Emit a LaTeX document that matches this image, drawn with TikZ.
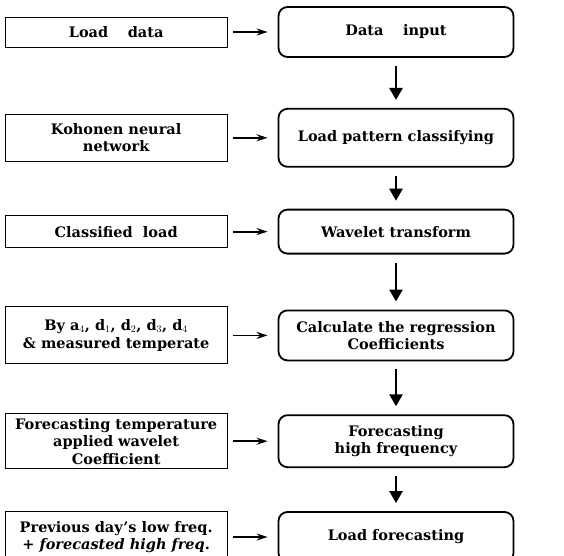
\documentclass[tikz,border=0pt]{standalone}
\usepackage{fontspec}
\setmainfont{DejaVu Serif}
\usepackage{tikz}
\usetikzlibrary{arrows.meta}
\usetikzlibrary{positioning}
\tikzstyle{inbox} = [rectangle,draw=black,line width=0.9pt,align=center,
minimum width=222pt, inner sep=1pt, font=\fontsize{14.5}{17.5}\bfseries]
\tikzstyle{stepbox} = [rectangle,rounded corners=9pt,draw=black,line width=1.8pt,
align=center,minimum width=235pt, inner sep=1pt, font=\fontsize{14.5}{17.5}\bfseries]
\newcommand{\feed}[3][]{ %
  % connect each node #2 to each node #3
  \foreach \a in {#2} { %
    \foreach \b in {#3} { %
      \path (\a) edge [#1] (\b) ;%
    } ;
  } ;
}
\begin{document}
\begin{tikzpicture}[x=1pt,y=1pt,
  side/.style={-{Stealth[length=11pt,width=7pt]}, line width=1.8pt,
    shorten <=5pt, shorten >=10pt},
  down/.style={-{Triangle[length=12pt,width=13pt]}, line width=2.6pt,
    shorten <=8pt, shorten >=8pt}]
  \useasboundingbox (0,0) rectangle (564,555);
  % main steps
  \node[stepbox, minimum height=50pt] (R1) at (396,523) {Data\quad\ input};
  \node[stepbox, minimum height=58pt, below = 50pt of R1] (R2) {Load pattern classifying};
  \node[stepbox, minimum height=44pt, below = 41pt of R2] (R3) {Wavelet transform};
  \node[stepbox, minimum height=50pt, below = 55pt of R3] (R4) {Calculate the regression\\Coefficients};
  \node[stepbox, minimum height=52pt, below = 53pt of R4] (R5) {Forecasting\\high frequency};
  \node[stepbox, minimum height=50pt, below = 43pt of R5] (R6) {Load forecasting};
  % side inputs
  \node[inbox, minimum height=30pt, left = 50pt of R1] (L1) {Load\quad\ data};
  \node[inbox, minimum height=47pt, left = 50pt of R2] (L2) {Kohonen neural\\network};
  \node[inbox, minimum height=32pt, left = 50pt of R3] (L3) {Classified\ \ load};
  \node[inbox, minimum height=57pt, left = 50pt of R4] (L4)
    {By $\mathbf{a}_4$, $\mathbf{d}_1$, $\mathbf{d}_2$, $\mathbf{d}_3$, $\mathbf{d}_4$\\\& measured temperate};
  \node[inbox, minimum height=55pt, left = 50pt of R5] (L5)
    {Forecasting temperature\\applied wavelet\\Coefficient};
  \node[inbox, minimum height=52pt, left = 50pt of R6] (L6)
    {Previous day's low freq.\\+ \textit{forecasted high freq.}};

  % edges
  \feed[side] {L1} {R1}
  \feed[side] {L2} {R2}
  \feed[side] {L3} {R3}
  \feed[side] {L4} {R4}
  \feed[side] {L5} {R5}
  \feed[side] {L6} {R6}
  \feed[down] {R1} {R2}
  \feed[down] {R2} {R3}
  \feed[down] {R3} {R4}
  \feed[down] {R4} {R5}
  \feed[down] {R5} {R6}
\end{tikzpicture}
\end{document}
